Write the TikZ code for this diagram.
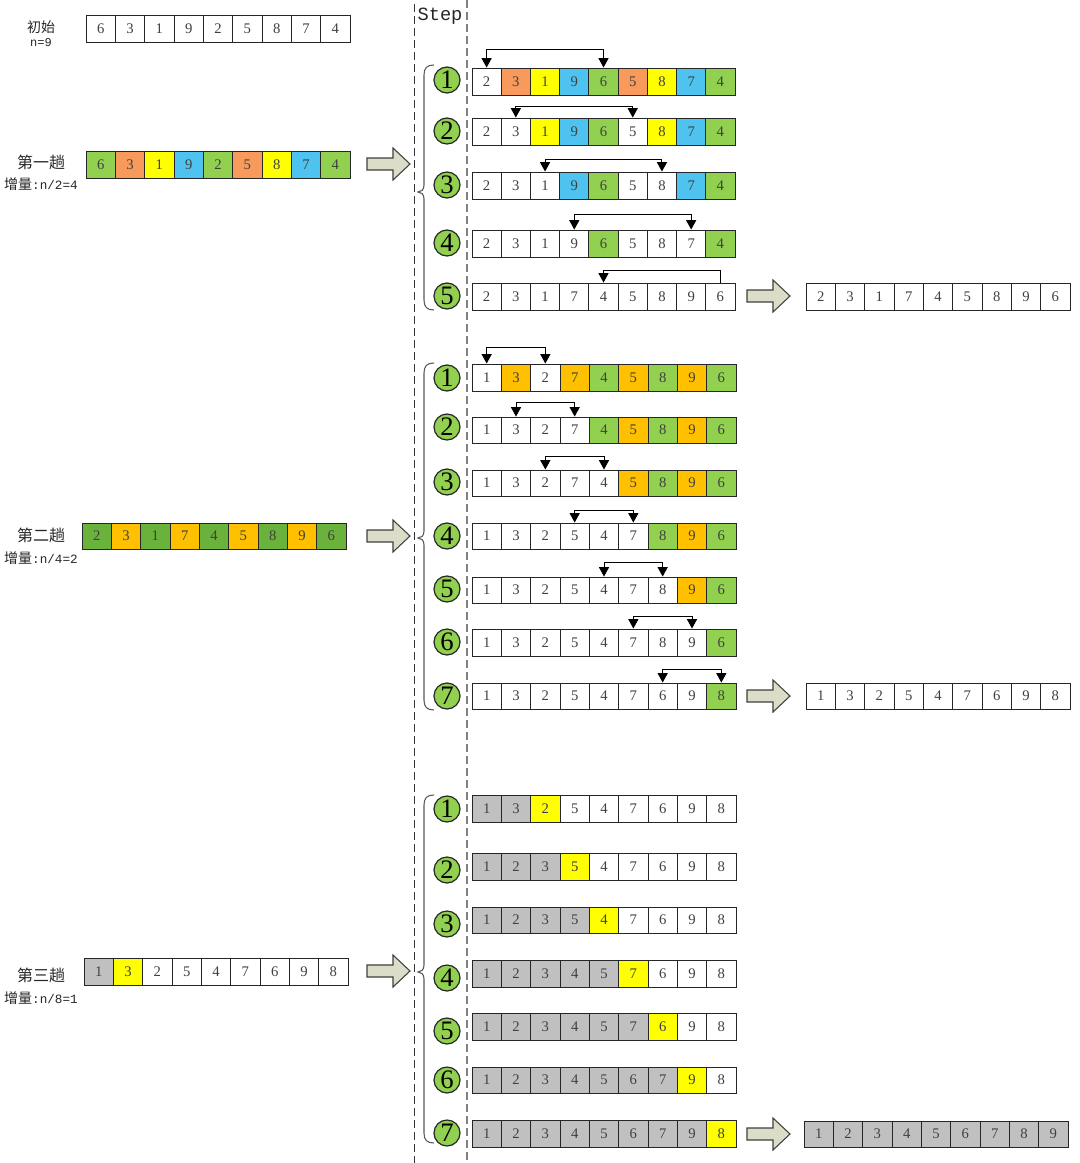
\documentclass[tikz,border=0pt]{standalone}
\usepackage{fontspec}
\setmainfont{Liberation Serif}
\setmonofont{Liberation Mono}
\newfontfamily\cjk{Noto Sans CJK SC}
\usetikzlibrary{arrows.meta}
\definecolor{cG}{HTML}{92D050}
\definecolor{cD}{HTML}{6AB23C}
\definecolor{cR}{HTML}{F79A5B}
\definecolor{cO}{HTML}{FFC000}
\definecolor{cY}{HTML}{FFFF00}
\definecolor{cB}{HTML}{4FC3F0}
\definecolor{cS}{HTML}{C0C0C0}
\definecolor{cW}{HTML}{FFFFFF}
\definecolor{cA}{HTML}{DCDDC8}
\tikzset{
  cell/.style={draw=black!85, line width=0.7pt, inner sep=0pt, font=\fontsize{11}{11}\selectfont, text=black!75},
  stepnum/.style={circle, draw=black!85, line width=0.9pt, fill=cG, inner sep=0pt, minimum size=19.5pt, font=\fontsize{20}{20}\selectfont},
  swap/.style={line width=0.7pt, {Triangle[width=7.5pt,length=7pt]}-{Triangle[width=7.5pt,length=7pt]}},
  swapone/.style={line width=0.7pt, -{Triangle[width=7.5pt,length=7pt]}},
  lbl/.style={font=\cjk\fontsize{12}{12}\selectfont, text=black!85},
  inc/.style={font=\fontsize{10.5}{10.5}\selectfont, text=black!85},
  barrowst/.style={draw=black!75, line width=0.8pt, fill=cA},
  bracest/.style={draw=black!65, line width=0.8pt},
}
\newcommand{\arr}[6]{%
  \pgfmathsetmacro{\cw}{(#4-#2)/9}%
  \pgfmathsetmacro{\ch}{#5-#3}%
  \foreach \v/\c [count=\i from 0] in {#6} {
    \node[cell, fill=\c, minimum width=\cw*0.75pt, minimum height=\ch*0.75pt] (#1-\i) at ({#2+(\i+0.5)*\cw},{(#3+#5)/2}) {\v};
  }%
}
\newcommand{\barrow}[2]{%
  \draw[barrowst] (#1,#2-6) -- (#1+26,#2-6) -- (#1+26,#2-16) -- (#1+43,#2) -- (#1+26,#2+16) -- (#1+26,#2+6) -- (#1,#2+6) -- cycle;}
\newcommand{\stepbrace}[3]{%
  \draw[bracest] (434,#1) .. controls (427,#1) and (424,#1+3) .. (424,#1+10) -- (424,#3-7) .. controls (424,#3-2) and (421,#3) .. (418,#3) .. controls (421,#3) and (424,#3+2) .. (424,#3+7) -- (424,#2-10) .. controls (424,#2-3) and (427,#2) .. (434,#2);}
\newcommand{\incr}[1]{{\cjk 增量}{\ttfamily\fontsize{9.5}{9.5}\selectfont #1}}
\begin{document}
\begin{tikzpicture}[x=0.75pt,y=-0.75pt]
\useasboundingbox (0,0) rectangle (1080,1163);
\fill[white] (0,0) rectangle (1080,1163);
% dashed separators
\draw[black!80, line width=0.7pt, dash pattern=on 6pt off 3pt] (414,4) -- (414,1163);
\draw[black!50, line width=1.1pt, dash pattern=on 6pt off 3pt] (467,0) -- (467,1163);
\node[font=\ttfamily\fontsize{14}{14}\selectfont, text=black!85] (steplbl) at (440,16) {Step};
% initial
\node[lbl, font=\cjk\fontsize{10.5}{10.5}\selectfont] (init) at (41,27) {初始};
\node[font=\ttfamily\fontsize{9}{9}\selectfont, text=black!85] (initn) at (41,43) {n=9};
\arr{a0}{86}{15}{350}{42}{6/cW,3/cW,1/cW,9/cW,2/cW,5/cW,8/cW,7/cW,4/cW}
% ---------- pass 1 ----------
\node[lbl] (p1lbl) at (41,162) {第一趟};
\node[inc] (p1inc) at (41,184) {\incr{:n/2=4}};
\arr{p1}{86}{151}{350}{178}{6/cG,3/cR,1/cY,9/cB,2/cG,5/cR,8/cY,7/cB,4/cG}
\barrow{367}{164}
\stepbrace{65}{310}{192}
\arr{p1s1}{472}{68}{735}{95}{2/cW,3/cR,1/cY,9/cB,6/cG,5/cR,8/cY,7/cB,4/cG}
\arr{p1s2}{472}{118}{735}{145}{2/cW,3/cW,1/cY,9/cB,6/cG,5/cW,8/cY,7/cB,4/cG}
\arr{p1s3}{472}{172}{735}{199}{2/cW,3/cW,1/cW,9/cB,6/cG,5/cW,8/cW,7/cB,4/cG}
\arr{p1s4}{472}{230}{735}{257}{2/cW,3/cW,1/cW,9/cW,6/cG,5/cW,8/cW,7/cW,4/cG}
\arr{p1s5}{472}{283}{735}{310}{2/cW,3/cW,1/cW,7/cW,4/cW,5/cW,8/cW,9/cW,6/cW}
\node[stepnum] (p1n1) at (447,80) {1};
\node[stepnum] (p1n2) at (447,131) {2};
\node[stepnum] (p1n3) at (447,185) {3};
\node[stepnum] (p1n4) at (447,243) {4};
\node[stepnum] (p1n5) at (447,296) {5};
\draw[swap] (p1s1-0.north) -- ++(0,-18) -| (p1s1-4.north);
\draw[swap] (p1s2-1.north) -- ++(0,-11) -| (p1s2-5.north);
\draw[swap] (p1s3-2.north) -- ++(0,-12) -| (p1s3-6.north);
\draw[swap] (p1s4-3.north) -- ++(0,-15) -| (p1s4-7.north);
\draw[swapone] (p1s5-8.north) -- ++(0,-12) -| (p1s5-4.north);
\barrow{747}{296}
\arr{p1o}{806}{283}{1070}{310}{2/cW,3/cW,1/cW,7/cW,4/cW,5/cW,8/cW,9/cW,6/cW}
% ---------- pass 2 ----------
\node[lbl] (p2lbl) at (41,535) {第二趟};
\node[inc] (p2inc) at (41,558) {\incr{:n/4=2}};
\arr{p2}{82}{523}{346}{549}{2/cD,3/cO,1/cD,7/cO,4/cD,5/cO,8/cD,9/cO,6/cD}
\barrow{367}{536}
\stepbrace{363}{710}{538}
\arr{p2s1}{472}{364}{736}{391}{1/cW,3/cO,2/cW,7/cO,4/cG,5/cO,8/cG,9/cO,6/cG}
\arr{p2s2}{472}{417}{736}{443}{1/cW,3/cW,2/cW,7/cW,4/cG,5/cO,8/cG,9/cO,6/cG}
\arr{p2s3}{472}{470}{736}{496}{1/cW,3/cW,2/cW,7/cW,4/cW,5/cO,8/cG,9/cO,6/cG}
\arr{p2s4}{472}{523}{736}{549}{1/cW,3/cW,2/cW,5/cW,4/cW,7/cW,8/cG,9/cO,6/cG}
\arr{p2s5}{472}{577}{736}{603}{1/cW,3/cW,2/cW,5/cW,4/cW,7/cW,8/cW,9/cO,6/cG}
\arr{p2s6}{472}{629}{736}{656}{1/cW,3/cW,2/cW,5/cW,4/cW,7/cW,8/cW,9/cW,6/cG}
\arr{p2s7}{472}{683}{736}{709}{1/cW,3/cW,2/cW,5/cW,4/cW,7/cW,6/cW,9/cW,8/cG}
\node[stepnum] (p2n1) at (447,378) {1};
\node[stepnum] (p2n2) at (447,427) {2};
\node[stepnum] (p2n3) at (447,482) {3};
\node[stepnum] (p2n4) at (447,536) {4};
\node[stepnum] (p2n5) at (447,589) {5};
\node[stepnum] (p2n6) at (447,642) {6};
\node[stepnum] (p2n7) at (447,696) {7};
\draw[swap] (p2s1-0.north) -- ++(0,-16) -| (p2s1-2.north);
\draw[swap] (p2s2-1.north) -- ++(0,-14) -| (p2s2-3.north);
\draw[swap] (p2s3-2.north) -- ++(0,-13) -| (p2s3-4.north);
\draw[swap] (p2s4-3.north) -- ++(0,-12) -| (p2s4-5.north);
\draw[swap] (p2s5-4.north) -- ++(0,-14) -| (p2s5-6.north);
\draw[swap] (p2s6-5.north) -- ++(0,-12) -| (p2s6-7.north);
\draw[swap] (p2s7-6.north) -- ++(0,-13) -| (p2s7-8.north);
\barrow{747}{696}
\arr{p2o}{806}{683}{1070}{709}{1/cW,3/cW,2/cW,5/cW,4/cW,7/cW,6/cW,9/cW,8/cW}
% ---------- pass 3 ----------
\node[lbl] (p3lbl) at (41,975) {第三趟};
\node[inc] (p3inc) at (41,998) {\incr{:n/8=1}};
\arr{p3}{84}{958}{348}{985}{1/cS,3/cY,2/cW,5/cW,4/cW,7/cW,6/cW,9/cW,8/cW}
\barrow{367}{971}
\stepbrace{795}{1143}{972}
\arr{p3s1}{472}{795}{736}{822}{1/cS,3/cS,2/cY,5/cW,4/cW,7/cW,6/cW,9/cW,8/cW}
\arr{p3s2}{472}{853}{736}{880}{1/cS,2/cS,3/cS,5/cY,4/cW,7/cW,6/cW,9/cW,8/cW}
\arr{p3s3}{472}{907}{736}{933}{1/cS,2/cS,3/cS,5/cS,4/cY,7/cW,6/cW,9/cW,8/cW}
\arr{p3s4}{472}{960}{736}{987}{1/cS,2/cS,3/cS,4/cS,5/cS,7/cY,6/cW,9/cW,8/cW}
\arr{p3s5}{472}{1013}{736}{1040}{1/cS,2/cS,3/cS,4/cS,5/cS,7/cS,6/cY,9/cW,8/cW}
\arr{p3s6}{472}{1067}{736}{1093}{1/cS,2/cS,3/cS,4/cS,5/cS,6/cS,7/cS,9/cY,8/cW}
\arr{p3s7}{472}{1120}{736}{1147}{1/cS,2/cS,3/cS,4/cS,5/cS,6/cS,7/cS,9/cS,8/cY}
\node[stepnum] (p3n1) at (447,809) {1};
\node[stepnum] (p3n2) at (447,870) {2};
\node[stepnum] (p3n3) at (447,924) {3};
\node[stepnum] (p3n4) at (447,978) {4};
\node[stepnum] (p3n5) at (447,1031) {5};
\node[stepnum] (p3n6) at (447,1080) {6};
\node[stepnum] (p3n7) at (447,1133) {7};
\barrow{747}{1134}
\arr{p3o}{804}{1121}{1068}{1147}{1/cS,2/cS,3/cS,4/cS,5/cS,6/cS,7/cS,8/cS,9/cS}
\end{tikzpicture}
\end{document}
